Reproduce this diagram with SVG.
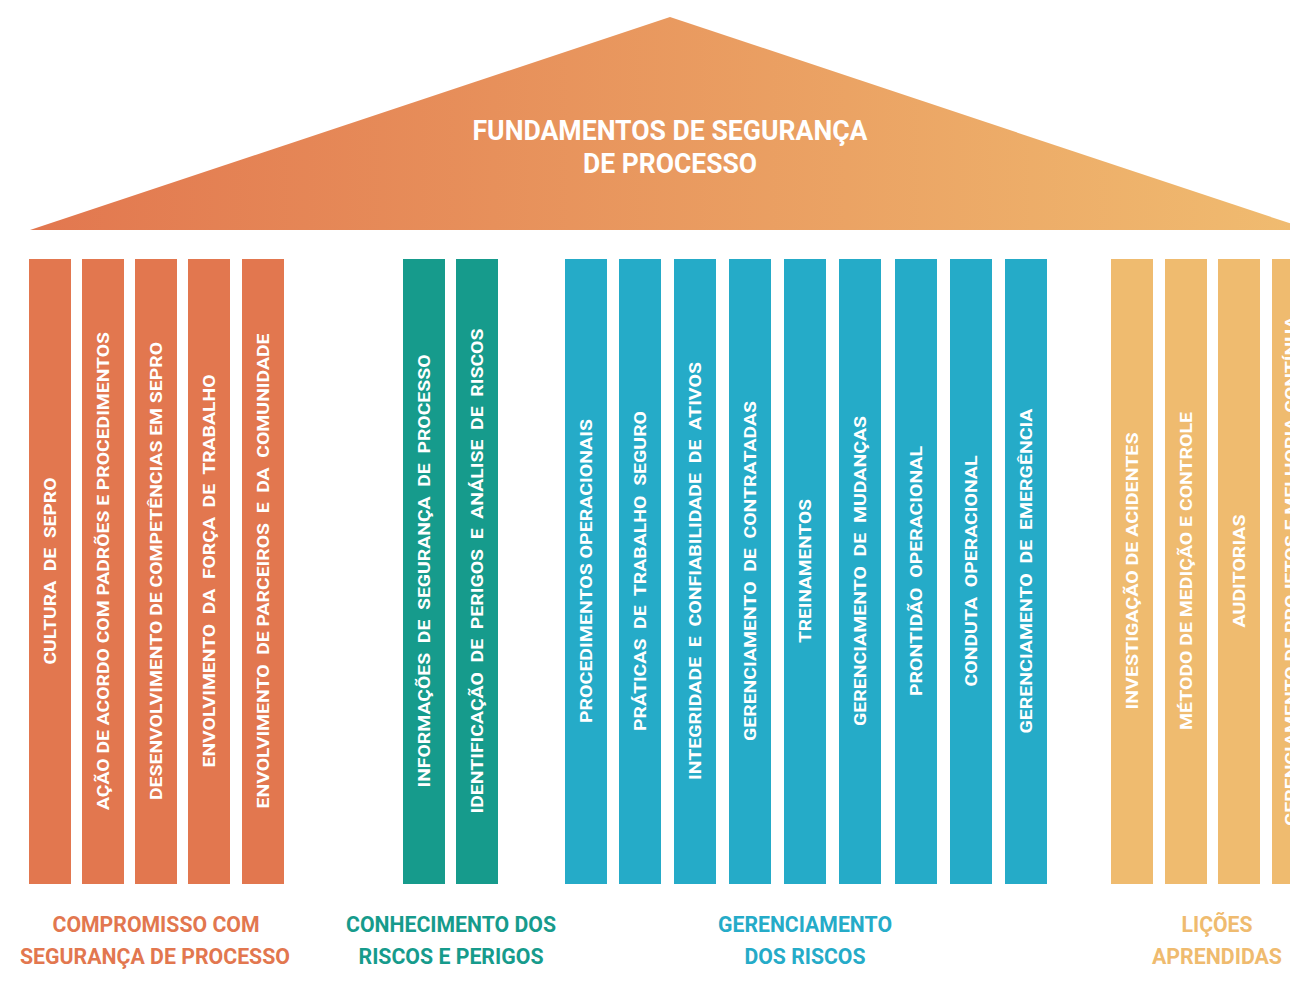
<svg xmlns="http://www.w3.org/2000/svg" width="1290" height="991" viewBox="0 0 1290 991">
<defs>
<linearGradient id="roofGrad" x1="0" y1="0" x2="1" y2="0">
<stop offset="0" stop-color="#E2774F"/>
<stop offset="1" stop-color="#F0BC70"/>
</linearGradient>
</defs>
<style>
.p1{fill:#E2774F}
.p2{fill:#169B8C}
.p3{fill:#25ABC8}
.p4{fill:#EFBB6F}
.pt{font-family:Roboto,"Liberation Sans",sans-serif;font-weight:bold;font-size:17px;fill:#FFFFFF;text-anchor:middle;white-space:pre}
.title{font-family:Roboto,"Liberation Sans",sans-serif;font-weight:bold;font-size:27px;fill:#FFFFFF;text-anchor:middle}
.lab{font-family:Roboto,"Liberation Sans",sans-serif;font-weight:bold;font-size:22px;text-anchor:middle}
</style>
<rect width="1290" height="991" fill="#FFFFFF"/>
<g id="roof">
<polygon points="30,230 670,17 1310,230" fill="url(#roofGrad)"/>
<text class="title" x="670" y="140" textLength="395" lengthAdjust="spacingAndGlyphs">FUNDAMENTOS DE SEGURANÇA</text>
<text class="title" x="670" y="173" textLength="174" lengthAdjust="spacingAndGlyphs">DE PROCESSO</text>
</g>
<g id="pillar-1"><rect class="p1" x="29" y="259" width="42" height="625"/><text class="pt" transform="translate(56,571) rotate(-90)" textLength="187" lengthAdjust="spacingAndGlyphs">CULTURA  DE  SEPRO</text></g>
<g id="pillar-2"><rect class="p1" x="82" y="259" width="42" height="625"/><text class="pt" transform="translate(109,571) rotate(-90)" textLength="478" lengthAdjust="spacingAndGlyphs">AÇÃO DE ACORDO COM PADRÕES E PROCEDIMENTOS</text></g>
<g id="pillar-3"><rect class="p1" x="135" y="259" width="42" height="625"/><text class="pt" transform="translate(162,571) rotate(-90)" textLength="458" lengthAdjust="spacingAndGlyphs">DESENVOLVIMENTO DE COMPETÊNCIAS EM SEPRO</text></g>
<g id="pillar-4"><rect class="p1" x="188" y="259" width="42" height="625"/><text class="pt" transform="translate(215,571) rotate(-90)" textLength="393" lengthAdjust="spacingAndGlyphs">ENVOLVIMENTO  DA  FORÇA  DE  TRABALHO</text></g>
<g id="pillar-5"><rect class="p1" x="242" y="259" width="42" height="625"/><text class="pt" transform="translate(269,571) rotate(-90)" textLength="475" lengthAdjust="spacingAndGlyphs">ENVOLVIMENTO  DE PARCEIROS  E  DA  COMUNIDADE</text></g>
<g id="pillar-6"><rect class="p2" x="403" y="259" width="42" height="625"/><text class="pt" transform="translate(430,571) rotate(-90)" textLength="433" lengthAdjust="spacingAndGlyphs">INFORMAÇÕES  DE  SEGURANÇA  DE  PROCESSO</text></g>
<g id="pillar-7"><rect class="p2" x="456" y="259" width="42" height="625"/><text class="pt" transform="translate(483,571) rotate(-90)" textLength="485" lengthAdjust="spacingAndGlyphs">IDENTIFICAÇÃO  DE  PERIGOS  E  ANÁLISE  DE  RISCOS</text></g>
<g id="pillar-8"><rect class="p3" x="565" y="259" width="42" height="625"/><text class="pt" transform="translate(592,571) rotate(-90)" textLength="304" lengthAdjust="spacingAndGlyphs">PROCEDIMENTOS OPERACIONAIS</text></g>
<g id="pillar-9"><rect class="p3" x="619" y="259" width="42" height="625"/><text class="pt" transform="translate(646,571) rotate(-90)" textLength="320" lengthAdjust="spacingAndGlyphs">PRÁTICAS  DE  TRABALHO  SEGURO</text></g>
<g id="pillar-10"><rect class="p3" x="674" y="259" width="42" height="625"/><text class="pt" transform="translate(701,571) rotate(-90)" textLength="418" lengthAdjust="spacingAndGlyphs">INTEGRIDADE  E  CONFIABILIDADE  DE  ATIVOS</text></g>
<g id="pillar-11"><rect class="p3" x="729" y="259" width="42" height="625"/><text class="pt" transform="translate(756,571) rotate(-90)" textLength="340" lengthAdjust="spacingAndGlyphs">GERENCIAMENTO  DE  CONTRATADAS</text></g>
<g id="pillar-12"><rect class="p3" x="784" y="259" width="42" height="625"/><text class="pt" transform="translate(811,571) rotate(-90)" textLength="144" lengthAdjust="spacingAndGlyphs">TREINAMENTOS</text></g>
<g id="pillar-13"><rect class="p3" x="839" y="259" width="42" height="625"/><text class="pt" transform="translate(866,571) rotate(-90)" textLength="310" lengthAdjust="spacingAndGlyphs">GERENCIAMENTO  DE  MUDANÇAS</text></g>
<g id="pillar-14"><rect class="p3" x="895" y="259" width="42" height="625"/><text class="pt" transform="translate(922,571) rotate(-90)" textLength="250" lengthAdjust="spacingAndGlyphs">PRONTIDÃO  OPERACIONAL</text></g>
<g id="pillar-15"><rect class="p3" x="950" y="259" width="42" height="625"/><text class="pt" transform="translate(977,571) rotate(-90)" textLength="231" lengthAdjust="spacingAndGlyphs">CONDUTA  OPERACIONAL</text></g>
<g id="pillar-16"><rect class="p3" x="1005" y="259" width="42" height="625"/><text class="pt" transform="translate(1032,571) rotate(-90)" textLength="325" lengthAdjust="spacingAndGlyphs">GERENCIAMENTO  DE  EMERGÊNCIA</text></g>
<g id="pillar-17"><rect class="p4" x="1111" y="259" width="42" height="625"/><text class="pt" transform="translate(1138,571) rotate(-90)" textLength="277" lengthAdjust="spacingAndGlyphs">INVESTIGAÇÃO DE ACIDENTES</text></g>
<g id="pillar-18"><rect class="p4" x="1165" y="259" width="42" height="625"/><text class="pt" transform="translate(1192,571) rotate(-90)" textLength="318" lengthAdjust="spacingAndGlyphs">MÉTODO DE MEDIÇÃO E CONTROLE</text></g>
<g id="pillar-19"><rect class="p4" x="1218" y="259" width="42" height="625"/><text class="pt" transform="translate(1245,571) rotate(-90)" textLength="113" lengthAdjust="spacingAndGlyphs">AUDITORIAS</text></g>
<g id="pillar-20"><rect class="p4" x="1272" y="259" width="42" height="625"/><text class="pt" transform="translate(1297,571) rotate(-90)" textLength="510" lengthAdjust="spacingAndGlyphs">GERENCIAMENTO DE PROJETOS E MELHORIA CONTÍNUA</text></g>
<g id="labels">
<text class="lab" fill="#E2774F" x="156" y="932" textLength="207" lengthAdjust="spacingAndGlyphs">COMPROMISSO COM</text>
<text class="lab" fill="#E2774F" x="155" y="964" textLength="270" lengthAdjust="spacingAndGlyphs">SEGURANÇA DE PROCESSO</text>
<text class="lab" fill="#169B8C" x="451" y="932" textLength="210" lengthAdjust="spacingAndGlyphs">CONHECIMENTO DOS</text>
<text class="lab" fill="#169B8C" x="451" y="964" textLength="185" lengthAdjust="spacingAndGlyphs">RISCOS E PERIGOS</text>
<text class="lab" fill="#25ABC8" x="805" y="932" textLength="174" lengthAdjust="spacingAndGlyphs">GERENCIAMENTO</text>
<text class="lab" fill="#25ABC8" x="805" y="964" textLength="121" lengthAdjust="spacingAndGlyphs">DOS RISCOS</text>
<text class="lab" fill="#EFBB6F" x="1217" y="932" textLength="71" lengthAdjust="spacingAndGlyphs">LIÇÕES</text>
<text class="lab" fill="#EFBB6F" x="1217" y="964" textLength="130" lengthAdjust="spacingAndGlyphs">APRENDIDAS</text>
</g>
</svg>
